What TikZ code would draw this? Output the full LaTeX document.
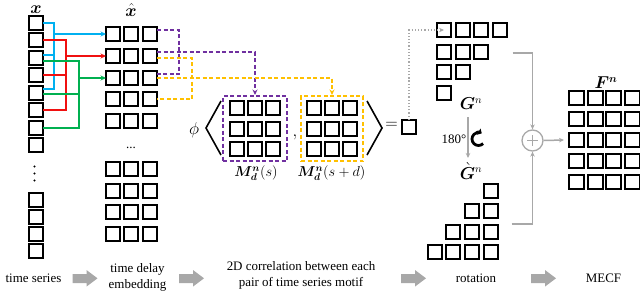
\documentclass[tikz,border=0pt]{standalone}
\usepackage{amsmath,bm}
\usepackage[no-math]{fontspec}
\setmainfont{Liberation Serif}
\usetikzlibrary{arrows.meta,calc}
\definecolor{cblue}{HTML}{00B0F0}
\definecolor{cred}{HTML}{F01010}
\definecolor{cgreen}{HTML}{00B050}
\definecolor{cpurple}{HTML}{7030A0}
\definecolor{cyellow}{HTML}{FFC000}
\definecolor{cgray}{HTML}{A8A8A8}
\begin{document}
\begin{tikzpicture}[x=1bp,y=-1bp,
  sq/.style={draw=black, line width=2bp, minimum size=14bp, inner sep=0pt, outer sep=0pt},
  fsq/.style={sq, minimum width=15bp, minimum height=14bp},
  rsq/.style={draw=black, line width=1.6bp, minimum size=14bp, inner sep=0pt, outer sep=0pt},
  conn/.style={line width=2bp},
  tip/.style={-{Stealth[length=5.5bp,width=5bp]}},
  pdash/.style={draw=cpurple, line width=2bp, dash pattern=on 4bp off 2.5bp},
  ydash/.style={draw=cyellow, line width=2bp, dash pattern=on 4bp off 2.5bp},
  gline/.style={draw=cgray, line width=1.5bp},
  gtip/.style={-{Stealth[length=5bp,width=4.5bp]}},
  lab/.style={font=\fontsize{13}{15.5}\selectfont, align=center, text=black, inner sep=0pt},
  mlab/.style={font=\fontsize{16}{18}\selectfont, inner sep=0pt},
  blockarrow/.style={fill=cgray, draw=none}
]
\useasboundingbox (0,0) rectangle (640,292);

% ---------- time series x ----------
\foreach \i/\y in {0/23,1/40,2/58,3/75,4/93,5/110,6/128,7/145} \node[sq] (x\i) at (36,\y) {};
\foreach \i/\y in {0/200,1/217,2/234,3/251} \node[sq] (xb\i) at (36,\y) {};
\foreach \y in {166.5,173.5,180.5} \fill (34.5,\y) circle (1.1);
\node[mlab] (xl) at (36,10) {$\bm{x}$};

% ---------- embedding x hat ----------
\foreach \r/\y in {0/34,1/56,2/78,3/99,4/121,5/169,6/191,7/212,8/234}
  \foreach \c/\xx in {0/113,1/131,2/150}
    \node[sq] (h-\r-\c) at (\xx,\y) {};
\node[lab] (hdots) at (131,148) {...};
\node[mlab] (hl) at (131,10) {$\hat{\bm{x}}$};

% ---------- colored connectors ----------
\coordinate (bj) at (54,34);
\coordinate (rj) at (66,56);
\coordinate (gj) at (79,78);
\draw[conn,cblue] (x0.east) -| (bj);
\draw[conn,cblue] ([yshift=3bp]x2.east) -| (bj);
\draw[conn,cblue] ([yshift=4bp]x4.east) -| (bj);
\draw[conn,cblue,tip] (bj) -- (h-0-0.west);
\draw[conn,cred] (x1.east) -| (rj);
\draw[conn,cred] (x3.east) -| (rj);
\draw[conn,cred] (x5.east) -| (rj);
\draw[conn,cred,tip] (rj) -- (h-1-0.west);
\draw[conn,cgreen] ([yshift=-3bp]x2.east) -| (gj);
\draw[conn,cgreen] ([yshift=-1bp]x4.east) -| (gj);
\draw[conn,cgreen] (x6.east) -| (gj);
\draw[conn,cgreen,tip] (gj) -- (h-2-0.west);

% ---------- motif boxes ----------
\node[pdash, minimum width=64bp, minimum height=65bp, inner sep=0pt] (Ms) at (255,128.5) {};
\foreach \r/\y in {0/108,1/129,2/149}
  \foreach \c/\xx in {0/237,1/255,2/273}
    \node[sq] (ms-\r-\c) at (\xx,\y) {};
\node[ydash, minimum width=62bp, minimum height=65bp, inner sep=0pt] (Msd) at (332,128.5) {};
\foreach \r/\y in {0/108,1/129,2/149}
  \foreach \c/\xx in {0/314,1/332,2/350}
    \node[sq] (md-\r-\c) at (\xx,\y) {};
\node[font=\fontsize{14.5}{16}\selectfont, inner sep=0pt] (Msl) at (256,173) {$\bm{M}_{\bm{d}}^{\bm{n}}(s)$};
\node[font=\fontsize{14.5}{16}\selectfont, inner sep=0pt] (Msdl) at (331.5,173) {$\bm{M}_{\bm{d}}^{\bm{n}}(s+d)$};

% ---------- dashed connectors ----------
\coordinate (pv) at (179,52);
\coordinate (yv) at (192,78);
\draw[pdash] ([yshift=4bp]h-0-2.east) -| (pv) |- ([yshift=4bp]h-2-2.east);
\draw[ydash] ([yshift=-2bp]h-1-2.east) -| (yv) |- (h-3-2.east);
\draw[pdash,tip] ([yshift=4bp]h-1-2.east) -| (Ms.north);
\draw[ydash,tip] (h-2-2.east) -| (Msd.north);

% ---------- phi < , > = ----------
\node[font=\fontsize{19}{19}\selectfont, inner sep=0pt] (phi) at (194,130) {$\phi$};
\draw[line width=1.6bp] (221,101) -- (206,128) -- (221,155);
\draw[line width=1.6bp] (367,101) -- (382,128) -- (367,155);
\node[font=\fontsize{16}{16}\selectfont, inner sep=0pt] (comma) at (295,137) {$,$};
\node[font=\fontsize{16}{16}\selectfont, inner sep=0pt] (eq) at (391.5,125) {$=$};
\node[rsq] (res) at (409,127) {};

% ---------- G matrix ----------
\foreach \r/\y/\n in {0/30/3,1/52/2,2/72/1,3/93/0}
  \foreach \c in {0,...,\n}{
    \pgfmathsetmacro\xx{{444,463,481,500}[\c]}
    \node[sq] (g-\r-\c) at (\xx,\y) {};
  }
\node[mlab] (Gl) at (471,104) {$\bm{G}^{n}$};
\draw[cgray, line width=1.2bp, dotted, gtip] (res.north) |- (g-0-0.center);

% ---------- rotation ----------
\coordinate (rs) at (468,117);
\coordinate (re) at (468,158);
\draw[gline,gtip] (rs) -- (re);
\node[lab] (deg) at (454,139) {180°};
\coordinate (rot) at (478.5,139);
\draw[line width=2.8bp, -{Triangle[length=3.5bp,width=7bp]}] ($(rot)+(45:6.5)$) arc (45:300:6.5);
\node[mlab] (Gr) at (471,171) {$\grave{\bm{G}}^{n}$};
\foreach \r/\y/\s in {0/191/3,1/211/2,2/232/1,3/252/0}
  \foreach \c in {\s,...,3}{
    \pgfmathsetmacro\xx{{435,453,472,491}[\c]}
    \node[sq] (q-\r-\c) at (\xx,\y) {};
  }

% ---------- sum ----------
\node[circle, draw=cgray, line width=1.3bp, minimum size=21bp, inner sep=0pt,
  path picture={\draw[cgray, line width=1.3bp]
    ([yshift=-5bp]path picture bounding box.north) -- ([yshift=5bp]path picture bounding box.south)
    ([xshift=5bp]path picture bounding box.west) -- ([xshift=-5bp]path picture bounding box.east);}]
  (plus) at (532.5,140.5) {};
\coordinate (gt) at (512.5,53);
\coordinate (gb) at (511.5,224);
\draw[gline,gtip] (gt) -| (plus.north);
\draw[gline,gtip] (gb) -| (plus.south);

% ---------- F matrix ----------
\foreach \r/\y in {0/98,1/119,2/140,3/161,4/182}
  \foreach \c/\xx in {0/576.5,1/595.5,2/613.5,3/632.5}
    \node[fsq] (f-\r-\c) at (\xx,\y) {};
\node[mlab] (Fl) at (606,83) {$\bm{F}^{\bm{n}}$};
\draw[gline,gtip] (plus.east) -- ([xshift=-5bp]f-2-0.west);

% ---------- bottom process ----------
\node[lab] (t1) at (33.5,278) {time series};
\node[lab] (t2) at (137.5,277.5) {time delay\\embedding};
\node[lab] (t3) at (301,275.5) {2D correlation between each\\pair of time series motif};
\node[lab] (t4) at (476,278) {rotation};
\node[lab] (t5) at (603.5,278) {MECF};
\foreach \xa in {72.5,179,401,531}
  \fill[blockarrow] (\xa,274) -- (\xa+14,274) -- (\xa+14,270) -- (\xa+25,278.3)
     -- (\xa+14,286.6) -- (\xa+14,283) -- (\xa,283) -- cycle;
\end{tikzpicture}
\end{document}
